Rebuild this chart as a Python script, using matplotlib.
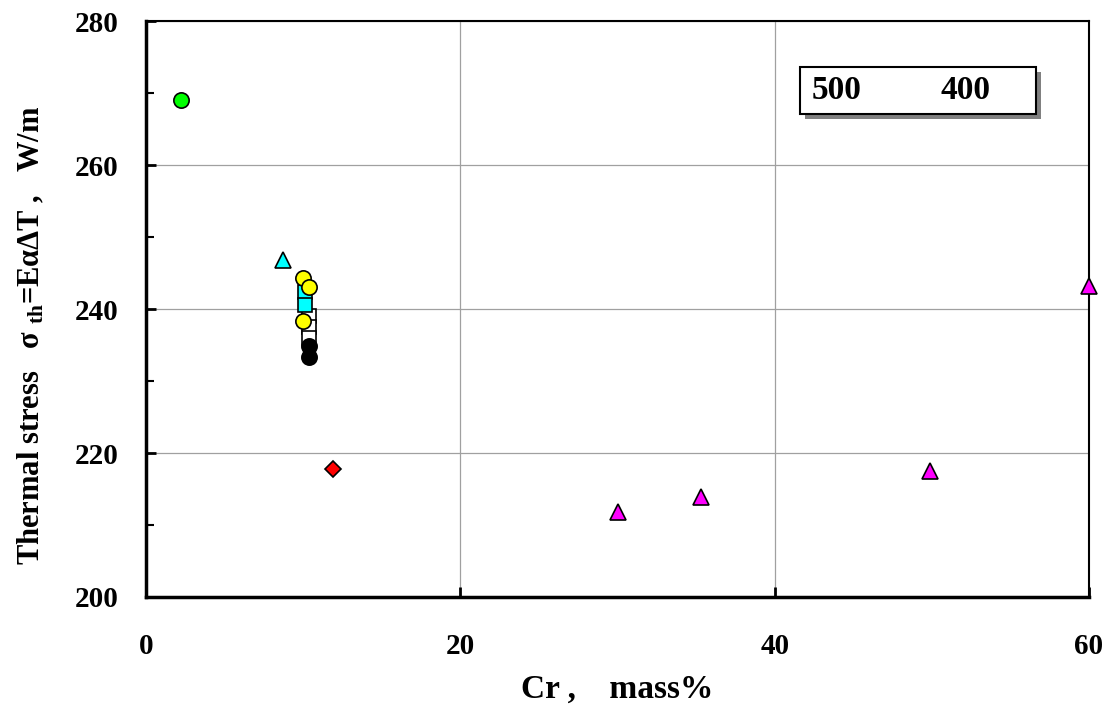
import matplotlib.pyplot as plt
from matplotlib.patches import Rectangle

# Data (Cr mass%, thermal stress W/m)
green_x = [2.2]
green_y = [269.0]
cyan_tri_x = [8.7]
cyan_tri_y = [246.8]
white_sq_x = [10.4, 10.4, 10.4]
white_sq_y = [239.0, 237.5, 236.0]
cyan_sq_x = [10.1, 10.1]
cyan_sq_y = [242.3, 240.6]
yellow_x = [10.0, 10.4, 10.0]
yellow_y = [244.3, 243.1, 238.3]
black_x = [10.4, 10.4]
black_y = [234.9, 233.4]
red_x = [11.9]
red_y = [217.8]
magenta_x = [30.0, 35.3, 49.9, 60.0]
magenta_y = [211.8, 213.9, 217.5, 243.2]

legend_labels = ["500", "400"]

plt.rcParams['font.family'] = 'Liberation Serif'
plt.rcParams['font.weight'] = 'bold'
plt.rcParams['mathtext.fontset'] = 'custom'
plt.rcParams['mathtext.rm'] = 'Liberation Serif:bold'
plt.rcParams['mathtext.it'] = 'Liberation Serif:bold'
plt.rcParams['mathtext.bf'] = 'Liberation Serif:bold'

fig = plt.figure(figsize=(11.14, 7.13), dpi=100)
ax = fig.add_axes([0.1311, 0.1627, 0.8465, 0.8078])

mk = dict(markeredgecolor='black', markeredgewidth=1.2, linestyle='none', clip_on=False, zorder=3)
ax.plot(green_x, green_y, 'o', markerfacecolor='#00ff00', markersize=11, **mk)
ax.plot(cyan_tri_x, cyan_tri_y, '^', markerfacecolor='#00ffff', markersize=12, **mk)
ax.plot(white_sq_x, white_sq_y, 's', markerfacecolor='white', markersize=10, **mk)
ax.plot(cyan_sq_x, cyan_sq_y, 's', markerfacecolor='#00ffff', markersize=10, **mk)
ax.plot(yellow_x, yellow_y, 'o', markerfacecolor='#ffff00', markersize=11, **mk)
ax.plot(black_x, black_y, 'o', markerfacecolor='black', markersize=11, **mk)
ax.plot(red_x, red_y, 'D', markerfacecolor='#ff0000', markersize=8, **mk)
ax.plot(magenta_x, magenta_y, '^', markerfacecolor='#ff00ff', markersize=12, **mk)

ax.set_xlim(0, 60)
ax.set_ylim(200, 280)
ax.set_xticks([0, 20, 40, 60])
ax.set_yticks([200, 220, 240, 260, 280])
ax.set_yticks([210, 230, 250, 270], minor=True)
ax.grid(True, which='major', color='#a0a0a0', linewidth=0.9)
ax.set_axisbelow(True)

ax.tick_params(axis='both', which='major', direction='in', length=7, width=2, labelsize=21)
ax.tick_params(axis='y', which='major', pad=20)
ax.tick_params(axis='x', which='major', pad=26)
ax.tick_params(axis='y', which='minor', direction='in', length=6, width=1.5)
ax.tick_params(axis='x', top=False, right=False)

ax.spines['left'].set_linewidth(2.5)
ax.spines['bottom'].set_linewidth(2.5)
ax.spines['right'].set_linewidth(1.5)
ax.spines['top'].set_linewidth(1.5)

ax.set_xlabel("Cr ,    mass%", fontsize=24, fontweight='bold', labelpad=10)
ax.set_ylabel(r"Thermal stress   σ $_{\mathrm{th}}$=EαΔT ,   W/m", fontsize=22, fontweight='bold')
ax.yaxis.set_label_coords(-0.106, 0.455)

# legend-like box with drop shadow
ax.add_patch(Rectangle((0.699, 0.830), 0.2503, 0.0816, transform=ax.transAxes,
                       facecolor='#808080', edgecolor='none', clip_on=False, zorder=4))
ax.add_patch(Rectangle((0.6935, 0.8385), 0.2503, 0.0816, transform=ax.transAxes,
                       facecolor='white', edgecolor='black', linewidth=1.5, clip_on=False, zorder=5))
ax.text(0.706, 0.8795, legend_labels[0], transform=ax.transAxes, fontsize=24,
        fontweight='bold', va='center', ha='left', zorder=6)
ax.text(0.843, 0.8795, legend_labels[1], transform=ax.transAxes, fontsize=24,
        fontweight='bold', va='center', ha='left', zorder=6)

fig.savefig('out.png', dpi=100, facecolor='white')
